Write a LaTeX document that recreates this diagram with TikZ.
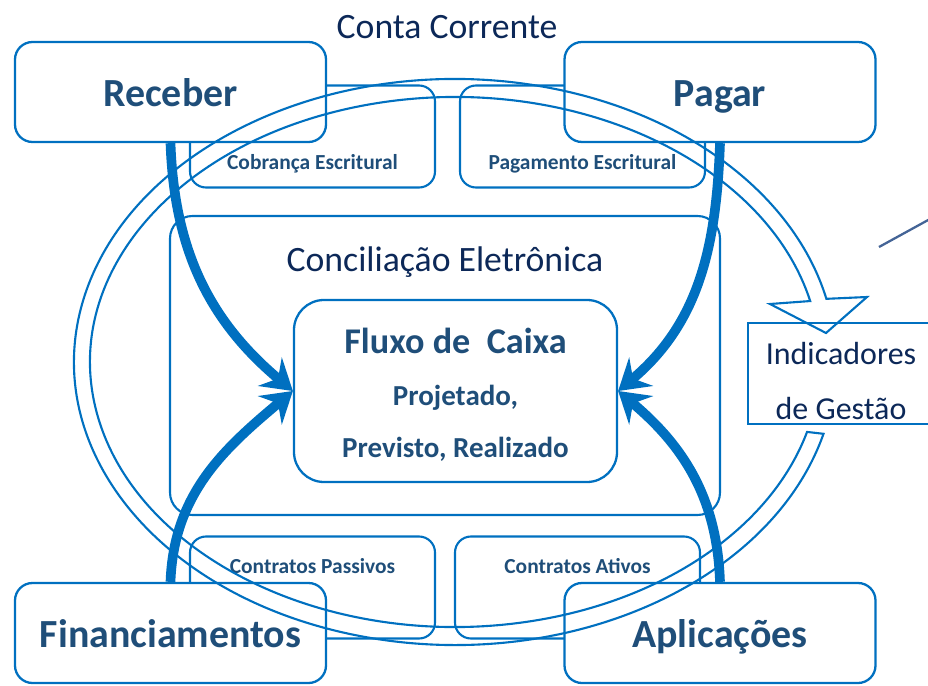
\documentclass[tikz,border=0pt]{standalone}
\usepackage{fontspec}
\setmainfont{Carlito}
\usetikzlibrary{arrows.meta,calc}
\definecolor{lineblue}{RGB}{0,112,192}
\definecolor{labelnavy}{RGB}{31,78,121}
\definecolor{textnavy}{RGB}{12,40,88}
\definecolor{slateline}{RGB}{68,100,150}

\tikzset{
  mainbox/.style={draw=lineblue, line width=1.3pt, fill=white, rounded corners=0.35cm,
    minimum width=6.22cm, minimum height=2cm, text=labelnavy,
    text height=16pt, text depth=0pt,
    font=\bfseries\fontsize{22.7}{27}\selectfont},
  subbox/.style={draw=lineblue, line width=1.2pt, rounded corners=0.32cm,
    minimum width=4.9cm, minimum height=2.04cm},
  subtext/.style={text=labelnavy, font=\bfseries\fontsize{12.2}{14}\selectfont},
  plaintext/.style={text=textnavy, font=\fontsize{20.3}{24}\selectfont},
  flowarrow/.style={draw=lineblue, line width=5.5pt,
    -{Stealth[length=17pt, width=21pt, inset=6pt]}},
  ringline/.style={draw=lineblue, line width=1.2pt, line join=miter},
}

\begin{document}
\begin{tikzpicture}
\useasboundingbox (0,0) rectangle (18.56,13.7);
\clip (0,0) rectangle (18.56,13.7);

% caixas menores (ficam por baixo)
\node[subbox] (cobranca) at (6.25,10.97) {};
\node[subbox] (pagamento) at (11.65,10.97) {};
\node[subbox] (passivos) at (6.25,1.95) {};
\node[subbox] (ativos) at (11.55,1.95) {};
\node[subtext] (cobranca-txt) at ([yshift=-0.55cm]cobranca.center) {Cobrança Escritural};
\node[subtext] (pagamento-txt) at ([yshift=-0.55cm]pagamento.center) {Pagamento Escritural};
\node[subtext] (passivos-txt) at ([yshift=0.43cm]passivos.center) {Contratos Passivos};
\node[subtext] (ativos-txt) at ([yshift=0.43cm]ativos.center) {Contratos Ativos};

% caixas dos cantos
\node[mainbox] (receber) at (3.41,11.86) {Receber};
\node[mainbox] (pagar) at (14.40,11.86) {Pagar};
\node[mainbox] (financ) at (3.41,1.04) {Financiamentos};
\node[mainbox] (aplic) at (14.40,1.04) {Aplicações};

\node[plaintext] (conta) at (8.94,13.16) {Conta Corrente};

% conciliacao e fluxo
\node[draw=lineblue, line width=1.2pt, rounded corners=0.45cm, minimum width=11cm,
  minimum height=5.98cm] (concil) at (8.9,6.39) {};
\node[plaintext] (concil-txt) at ([yshift=-0.94cm]concil.north) {Conciliação Eletrônica};
\node[draw=lineblue, line width=1.3pt, rounded corners=0.6cm, minimum width=6.46cm,
  minimum height=3.64cm] (fluxo) at (9.11,5.88) {};
\node[align=center, text=labelnavy, font=\bfseries\fontsize{16.5}{29.5}\selectfont]
  (fluxo-txt) at ([yshift=-0.08cm]fluxo.center)
  {{\fontsize{20.6}{29.5}\selectfont Fluxo de\ \ Caixa}\\Projetado,\\Previsto, Realizado};

% anel com seta
\coordinate (ringc) at (9.1,6.46);
\draw[ringline] ($(ringc)+(-14.7:7.62 and 5.66)$)
  arc[start angle=-14.7, end angle=-347.1, x radius=7.62, y radius=5.66]
  -- (17.34,7.76) -- (16.52,7.04) -- (15.40,7.62)
  -- ($(ringc)+(13.3:7.30 and 5.30)$)
  arc[start angle=13.3, end angle=344.7, x radius=7.30, y radius=5.30] -- cycle;

\node[draw=lineblue, line width=1pt, minimum width=3.72cm, minimum height=2.02cm]
  (indic) at (16.82,6.23) {};
\node[align=center, text=textnavy, font=\fontsize{18.2}{31}\selectfont]
  (indic-txt) at ([yshift=-0.15cm]indic.center) {Indicadores\\de Gestão};

\coordinate (risco-a) at (17.58,8.76);
\coordinate (risco-b) at (18.8,9.43);
\draw[slateline, line width=1.3pt] (risco-a) -- (risco-b);

% setas grossas
\draw[flowarrow] (receber.south) to[out=-88, in=140] (fluxo.west);
\draw[flowarrow] (financ.north) to[out=88, in=-140] (fluxo.west);
\draw[flowarrow] (pagar.south) to[out=-92, in=40] (fluxo.east);
\draw[flowarrow] (aplic.north) to[out=92, in=-40] (fluxo.east);
\end{tikzpicture}
\end{document}
